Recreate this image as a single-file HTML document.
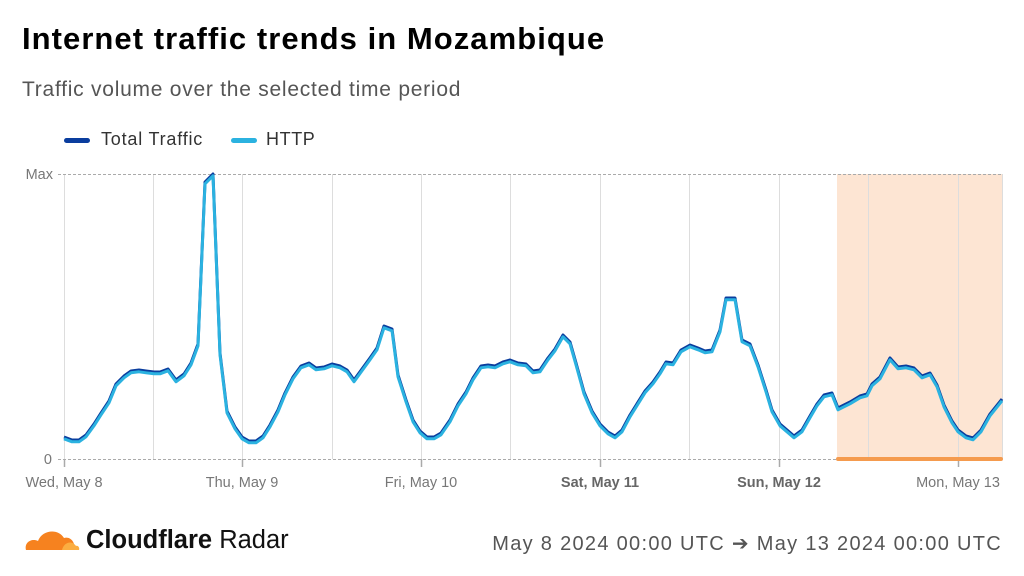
<!DOCTYPE html>
<html><head><meta charset="utf-8"><style>
body{margin:0;width:1024px;height:576px;background:#fff;font-family:"Liberation Sans",sans-serif;overflow:hidden;position:relative}
.t{position:absolute;white-space:nowrap}
</style></head><body>
<div class="t" style="left:22px;top:21px;font-size:31px;font-weight:bold;color:#000;letter-spacing:1.05px">Internet traffic trends in Mozambique</div>
<div class="t" style="left:22px;top:78px;font-size:21px;color:#555;letter-spacing:0.75px">Traffic volume over the selected time period</div>
<div class="t" style="left:64px;top:129px;font-size:18px;color:#333;letter-spacing:0.8px"><span style="display:inline-block;width:26px;height:5px;border-radius:3px;background:#0a3d9e;vertical-align:middle;margin-right:11px"></span>Total Traffic</div>
<div class="t" style="left:231px;top:129px;font-size:18px;color:#333;letter-spacing:0.6px"><span style="display:inline-block;width:26px;height:5px;border-radius:3px;background:#2bb2e0;vertical-align:middle;margin-right:9px"></span>HTTP</div>
<svg width="1024" height="576" style="position:absolute;left:0;top:0">
<rect x="837" y="174" width="165" height="285" fill="#fde5d3"/>
<g stroke="#ddd" stroke-width="1">
<line x1="64.5" y1="174" x2="64.5" y2="459"/><line x1="153.5" y1="174" x2="153.5" y2="459"/><line x1="242.5" y1="174" x2="242.5" y2="459"/><line x1="332.5" y1="174" x2="332.5" y2="459"/><line x1="421.5" y1="174" x2="421.5" y2="459"/><line x1="510.5" y1="174" x2="510.5" y2="459"/><line x1="600.5" y1="174" x2="600.5" y2="459"/><line x1="689.5" y1="174" x2="689.5" y2="459"/><line x1="779.5" y1="174" x2="779.5" y2="459"/><line x1="868.5" y1="174" x2="868.5" y2="459"/><line x1="958.5" y1="174" x2="958.5" y2="459"/><line x1="1002.5" y1="174" x2="1002.5" y2="459"/>
</g>
<g stroke="#aaa" stroke-width="1" stroke-dasharray="3,2"><line x1="58" y1="174.5" x2="1002" y2="174.5"/><line x1="58" y1="459.5" x2="1002" y2="459.5"/></g>
<g stroke="#aaa" stroke-width="1.5"><line x1="64.5" y1="459" x2="64.5" y2="467"/><line x1="242.5" y1="459" x2="242.5" y2="467"/><line x1="421.5" y1="459" x2="421.5" y2="467"/><line x1="600.5" y1="459" x2="600.5" y2="467"/><line x1="779.5" y1="459" x2="779.5" y2="467"/><line x1="958.5" y1="459" x2="958.5" y2="467"/></g>
<line x1="838" y1="459" x2="1001" y2="459" stroke="#f59b4e" stroke-width="4" stroke-linecap="round"/>
<g fill="none" stroke-linejoin="round" stroke-width="3">
<polyline stroke="#0a3d9e" points="64,437 72,440 79,440 86,435 94,424 101,413 109,401 116,384 124,376 131,371 139,370 146,371 154,372 160,372 168,369 176,380 184,374 191,363 198,344 205,182 213,174 220,353 227,411 235,427 242,437 249,441 256,441 263,436 270,425 278,410 285,393 293,377 301,366 309,363 316,368 324,367 332,364 340,366 347,370 354,380 362,369 370,358 377,348 384,326 392,329 398,375 406,400 413,420 420,431 427,437 434,437 441,433 450,420 458,404 466,392 473,378 481,366 488,365 495,366 503,362 510,360 518,363 526,364 533,371 540,370 548,358 555,349 563,335 570,342 576,363 584,392 592,411 600,424 608,432 615,436 622,430 630,415 645,391 653,382 660,372 666,362 673,363 681,350 690,345 698,348 705,351 712,350 720,330 726,298 735,298 742,340 750,344 758,365 766,390 772,410 780,424 794,436 802,430 810,416 817,404 824,395 832,393 838,408 850,402 860,396 867,394 872,384 880,377 890,358 898,367 906,366 914,368 922,376 930,373 937,385 944,405 952,421 958,430 966,436 973,438 981,430 990,414 1002,399"/>
<polyline stroke="#2bb2e0" transform="translate(0,1.8)" points="64,437 72,440 79,440 86,435 94,424 101,413 109,401 116,384 124,376 131,371 139,370 146,371 154,372 160,372 168,369 176,380 184,374 191,363 198,344 205,182 213,174 220,353 227,411 235,427 242,437 249,441 256,441 263,436 270,425 278,410 285,393 293,377 301,366 309,363 316,368 324,367 332,364 340,366 347,370 354,380 362,369 370,358 377,348 384,326 392,329 398,375 406,400 413,420 420,431 427,437 434,437 441,433 450,420 458,404 466,392 473,378 481,366 488,365 495,366 503,362 510,360 518,363 526,364 533,371 540,370 548,358 555,349 563,335 570,342 576,363 584,392 592,411 600,424 608,432 615,436 622,430 630,415 645,391 653,382 660,372 666,362 673,363 681,350 690,345 698,348 705,351 712,350 720,330 726,298 735,298 742,340 750,344 758,365 766,390 772,410 780,424 794,436 802,430 810,416 817,404 824,395 832,393 838,408 850,402 860,396 867,394 872,384 880,377 890,358 898,367 906,366 914,368 922,376 930,373 937,385 944,405 952,421 958,430 966,436 973,438 981,430 990,414 1002,399"/>
</g>
<g font-family="Liberation Sans, sans-serif" font-size="14.5" fill="#777">
<text x="53" y="179" text-anchor="end">Max</text><text x="52" y="464" text-anchor="end">0</text>
<text x="64" y="487" text-anchor="middle">Wed, May 8</text>
<text x="242" y="487" text-anchor="middle">Thu, May 9</text>
<text x="421" y="487" text-anchor="middle">Fri, May 10</text>
<text x="600" y="487" text-anchor="middle" font-weight="bold" fill="#666">Sat, May 11</text>
<text x="779" y="487" text-anchor="middle" font-weight="bold" fill="#666">Sun, May 12</text>
<text x="958" y="487" text-anchor="middle">Mon, May 13</text>
</g>
<g transform="translate(22,524)">
<path d="M4 26 C2 18 10 14 16 17 C20 6 36 4 42 14 C48 12 54 18 52 26 Z" fill="#f6821f"/>
<path d="M40 26 C42 18 50 16 54 22 C56 21 58 24 57 26 Z" fill="#fbad41"/>
</g>
<text x="86" y="548" font-family="Liberation Sans, sans-serif" font-size="25.5" font-weight="bold" fill="#111" letter-spacing="0">Cloudflare <tspan font-weight="normal">Radar</tspan></text>
<text x="1002" y="550" text-anchor="end" font-family="Liberation Sans, sans-serif" font-size="20" fill="#555" letter-spacing="1.3">May 8 2024 00:00 UTC ➔ May 13 2024 00:00 UTC</text>
</svg>
</body></html>
